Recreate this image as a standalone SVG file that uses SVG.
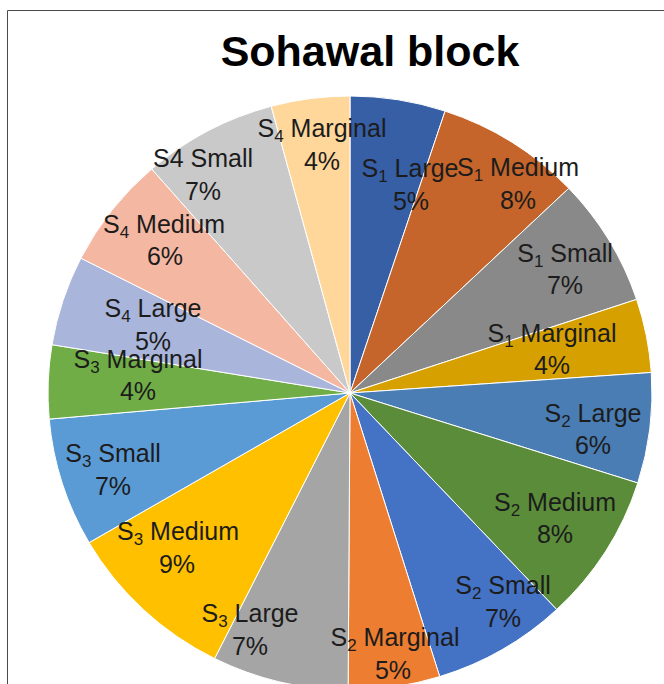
<svg xmlns="http://www.w3.org/2000/svg" width="664" height="684" viewBox="0 0 664 684">
<style>
.sl{stroke:#ffffff;stroke-width:1;stroke-linejoin:round}
.lb{font-family:"Liberation Sans",Arial,sans-serif;font-size:25px;fill:#1c1c1c;text-anchor:middle}
.sb{font-size:17px}
.ti{font-family:"Liberation Sans",Arial,sans-serif;font-size:43px;font-weight:bold;fill:#000;text-anchor:middle}
</style>
<rect x="0" y="0" width="664" height="684" fill="#ffffff"/>
<path d="M7.5 684 V10.5 H664" fill="none" stroke="#4a4a4a" stroke-width="1"/>
<text class="ti" x="370" y="66">Sohawal block</text>
<g id="pie">
<g id="s1-large"><path class="sl" fill="#365FA5" d="M350 393 L350 96 A302 297 0 0 1 445.1 111.1 Z"/></g>
<g id="s1-medium"><path class="sl" fill="#C5652B" d="M350 393 L445.1 111.1 A302 297 0 0 1 568.8 188.3 Z"/></g>
<g id="s1-small"><path class="sl" fill="#898989" d="M350 393 L568.8 188.3 A302 297 0 0 1 636.6 299.4 Z"/></g>
<g id="s1-marginal"><path class="sl" fill="#D6A100" d="M350 393 L636.6 299.4 A302 297 0 0 1 651.3 372.5 Z"/></g>
<g id="s2-large"><path class="sl" fill="#4A7DB3" d="M350 393 L651.3 372.5 A302 297 0 0 1 637.8 483 Z"/></g>
<g id="s2-medium"><path class="sl" fill="#5A8C3A" d="M350 393 L637.8 483 A302 297 0 0 1 556.7 609.5 Z"/></g>
<g id="s2-small"><path class="sl" fill="#4472C4" d="M350 393 L556.7 609.5 A302 297 0 0 1 439.7 676.6 Z"/></g>
<g id="s2-marginal"><path class="sl" fill="#ED7D31" d="M350 393 L439.7 676.6 A302 297 0 0 1 348.1 690 Z"/></g>
<g id="s3-large"><path class="sl" fill="#A5A5A5" d="M350 393 L348.1 690 A302 297 0 0 1 214.6 658.5 Z"/></g>
<g id="s3-medium"><path class="sl" fill="#FFC000" d="M350 393 L214.6 658.5 A302 297 0 0 1 89.1 542.6 Z"/></g>
<g id="s3-small"><path class="sl" fill="#5B9BD5" d="M350 393 L89.1 542.6 A302 297 0 0 1 49.2 419.1 Z"/></g>
<g id="s3-marginal"><path class="sl" fill="#70AD47" d="M350 393 L49.2 419.1 A302 297 0 0 1 52 344.7 Z"/></g>
<g id="s4-large"><path class="sl" fill="#A9B5DA" d="M350 393 L52 344.7 A302 297 0 0 1 80.9 258.2 Z"/></g>
<g id="s4-medium"><path class="sl" fill="#F4B7A2" d="M350 393 L80.9 258.2 A302 297 0 0 1 151.7 169 Z"/></g>
<g id="s4-small"><path class="sl" fill="#C9C9C9" d="M350 393 L151.7 169 A302 297 0 0 1 271.2 106.3 Z"/></g>
<g id="s4-marginal"><path class="sl" fill="#FFD79A" d="M350 393 L271.2 106.3 A302 297 0 0 1 350 96 Z"/></g>
</g>
<g id="labels">
<text class="lb" x="322" y="137">S<tspan class="sb" dy="5">4</tspan><tspan dy="-5"> Marginal</tspan></text>
<text class="lb" x="322" y="170">4%</text>
<text class="lb" x="410" y="177">S<tspan class="sb" dy="5">1</tspan><tspan dy="-5"> Large</tspan></text>
<text class="lb" x="411" y="210">5%</text>
<text class="lb" x="518" y="176">S<tspan class="sb" dy="5">1</tspan><tspan dy="-5"> Medium</tspan></text>
<text class="lb" x="518" y="209">8%</text>
<text class="lb" x="565" y="262">S<tspan class="sb" dy="5">1</tspan><tspan dy="-5"> Small</tspan></text>
<text class="lb" x="565" y="294">7%</text>
<text class="lb" x="552" y="342">S<tspan class="sb" dy="5">1</tspan><tspan dy="-5"> Marginal</tspan></text>
<text class="lb" x="552" y="374">4%</text>
<text class="lb" x="593" y="422">S<tspan class="sb" dy="5">2</tspan><tspan dy="-5"> Large</tspan></text>
<text class="lb" x="593" y="454">6%</text>
<text class="lb" x="555" y="511">S<tspan class="sb" dy="5">2</tspan><tspan dy="-5"> Medium</tspan></text>
<text class="lb" x="555" y="543">8%</text>
<text class="lb" x="503" y="594">S<tspan class="sb" dy="5">2</tspan><tspan dy="-5"> Small</tspan></text>
<text class="lb" x="503" y="627">7%</text>
<text class="lb" x="395" y="646">S<tspan class="sb" dy="5">2</tspan><tspan dy="-5"> Marginal</tspan></text>
<text class="lb" x="393" y="679">5%</text>
<text class="lb" x="250" y="622">S<tspan class="sb" dy="5">3</tspan><tspan dy="-5"> Large</tspan></text>
<text class="lb" x="250" y="655">7%</text>
<text class="lb" x="178" y="540">S<tspan class="sb" dy="5">3</tspan><tspan dy="-5"> Medium</tspan></text>
<text class="lb" x="177" y="573">9%</text>
<text class="lb" x="113" y="462">S<tspan class="sb" dy="5">3</tspan><tspan dy="-5"> Small</tspan></text>
<text class="lb" x="113" y="495">7%</text>
<text class="lb" x="138" y="368">S<tspan class="sb" dy="5">3</tspan><tspan dy="-5"> Marginal</tspan></text>
<text class="lb" x="138" y="400">4%</text>
<text class="lb" x="153" y="317">S<tspan class="sb" dy="5">4</tspan><tspan dy="-5"> Large</tspan></text>
<text class="lb" x="153" y="350">5%</text>
<text class="lb" x="164" y="233">S<tspan class="sb" dy="5">4</tspan><tspan dy="-5"> Medium</tspan></text>
<text class="lb" x="165" y="265">6%</text>
<text class="lb" x="203" y="167">S4 Small</text>
<text class="lb" x="203" y="200">7%</text>
</g>
</svg>
